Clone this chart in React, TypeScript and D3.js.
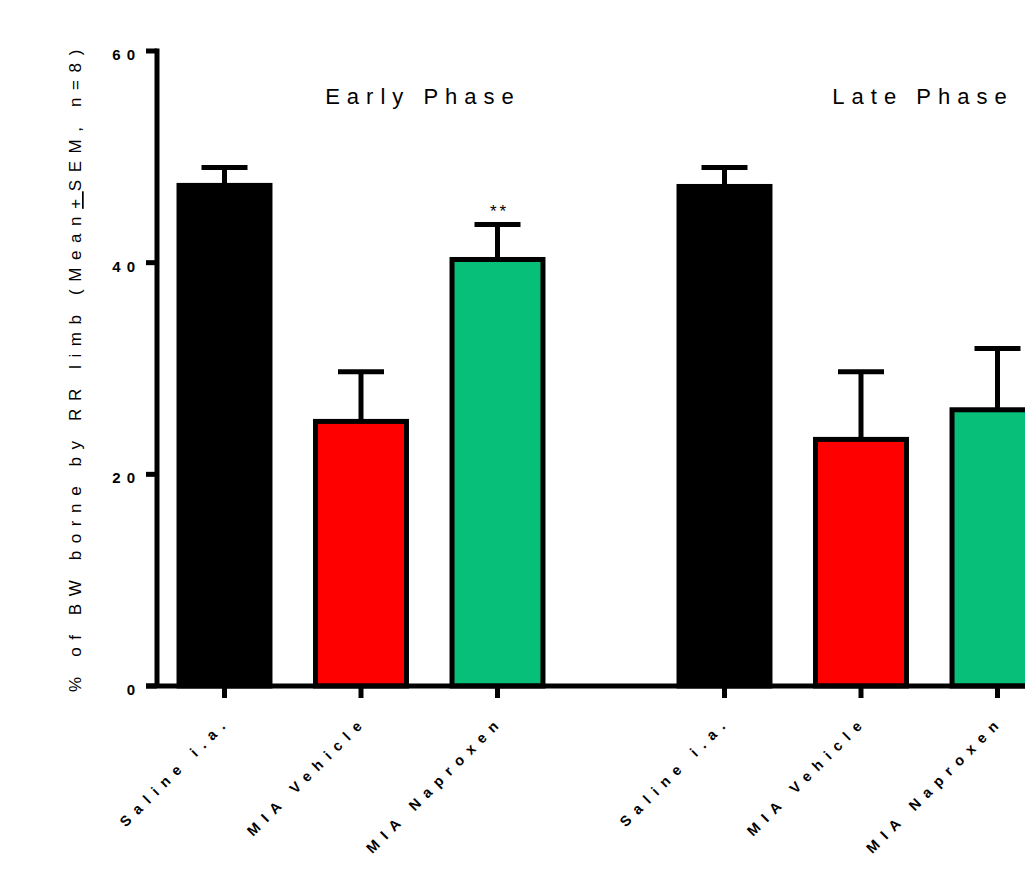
import React, { useEffect, useRef } from 'react';
import * as d3 from 'd3';

const phases = ['Early Phase', 'Late Phase'];
const groups = ['Saline i.a.', 'MIA Vehicle', 'MIA Naproxen'];
const groupColors = ['#000000', '#ff0000', '#07bf78'];
const earlyMeans = [47.3, 25.0, 40.3];
const earlySem = [1.7, 4.7, 3.3];
const lateMeans = [47.2, 23.3, 26.1];
const lateSem = [1.8, 6.4, 5.8];
const earlyMarks = ['', '', '**'];
const lateMarks = ['', '', ''];
const yTicks = [0, 20, 40, 60];

const App = () => {
    const svgRef = useRef<SVGSVGElement>(null);

    useEffect(() => {
        const width = 1025;
        const height = 884;
        const svg = d3.select(svgRef.current);
        svg.selectAll('*').remove();

        const rows = [
            { phase: phases[0], means: earlyMeans, sem: earlySem, marks: earlyMarks },
            { phase: phases[1], means: lateMeans, sem: lateSem, marks: lateMarks },
        ];

        const axisX = 157;
        const baseY = 686;
        const font = 'Arial, "Liberation Sans", Helvetica, sans-serif';

        const yScale = d3.scaleLinear().domain([0, 60]).range([baseY, 51]);

        const phaseScale = d3.scaleBand().domain(phases).range([111, 1111]);
        const groupScale = d3.scaleBand()
            .domain(groups)
            .range([0, phaseScale.bandwidth()])
            .paddingInner(0.297)
            .paddingOuter(0.48);

        const g = svg.append('g');

        // bars + error bars
        rows.forEach((row) => {
            const x0 = phaseScale(row.phase)!;
            groups.forEach((grp, i) => {
                const cx = x0 + groupScale(grp)! + groupScale.bandwidth() / 2;
                const bw = groupScale.bandwidth() - 5;
                const top = yScale(row.means[i]);
                const errTop = yScale(row.means[i] + row.sem[i]);

                g.append('line')
                    .attr('x1', cx).attr('x2', cx)
                    .attr('y1', top).attr('y2', errTop)
                    .attr('stroke', '#000').attr('stroke-width', 5);
                g.append('line')
                    .attr('x1', cx - 23).attr('x2', cx + 23)
                    .attr('y1', errTop).attr('y2', errTop)
                    .attr('stroke', '#000').attr('stroke-width', 5);

                g.append('rect')
                    .attr('x', cx - bw / 2)
                    .attr('y', top)
                    .attr('width', bw)
                    .attr('height', baseY - top)
                    .attr('fill', groupColors[i])
                    .attr('stroke', '#000')
                    .attr('stroke-width', 5);

                if (row.marks[i]) {
                    g.append('text')
                        .attr('x', cx + 2)
                        .attr('y', errTop - 8)
                        .attr('text-anchor', 'middle')
                        .style('font-family', font)
                        .style('font-size', '17px')
                        .style('letter-spacing', '3px')
                        .text(row.marks[i]);
                }

                // x tick + label
                g.append('line')
                    .attr('x1', cx).attr('x2', cx)
                    .attr('y1', baseY).attr('y2', baseY + 12)
                    .attr('stroke', '#000').attr('stroke-width', 5);
                g.append('text')
                    .attr('transform', `translate(${cx + 7},${baseY + 36}) rotate(-45)`)
                    .attr('text-anchor', 'end')
                    .style('font-family', font)
                    .style('font-size', '14.5px')
                    .style('font-weight', 'bold')
                    .style('letter-spacing', '7.5px')
                    .text(grp);
            });

            g.append('text')
                .attr('x', x0 + phaseScale.bandwidth() / 2 + 62)
                .attr('y', 104)
                .attr('text-anchor', 'middle')
                .style('font-family', font)
                .style('font-size', '22px')
                .style('letter-spacing', '7px')
                .text(row.phase);
        });

        // axes
        g.append('line')
            .attr('x1', axisX - 11).attr('x2', width + 10)
            .attr('y1', baseY).attr('y2', baseY)
            .attr('stroke', '#000').attr('stroke-width', 5);
        g.append('line')
            .attr('x1', axisX).attr('x2', axisX)
            .attr('y1', baseY).attr('y2', yScale(60) - 2.5)
            .attr('stroke', '#000').attr('stroke-width', 5);

        yTicks.forEach((t) => {
            g.append('line')
                .attr('x1', axisX - 11).attr('x2', axisX)
                .attr('y1', yScale(t)).attr('y2', yScale(t))
                .attr('stroke', '#000').attr('stroke-width', 5);
            g.append('text')
                .attr('x', axisX - 16)
                .attr('y', yScale(t) + 9)
                .attr('text-anchor', 'end')
                .style('font-family', font)
                .style('font-size', '15px')
                .style('font-weight', 'bold')
                .style('letter-spacing', '6px')
                .text(t);
        });

        const yTitle = g.append('text')
            .attr('transform', `translate(81,${367}) rotate(-90)`)
            .attr('text-anchor', 'middle')
            .style('font-family', font)
            .style('font-size', '17px')
            .style('letter-spacing', '7.6px');
        yTitle.append('tspan').text('% of BW borne by RR limb (Mean');
        yTitle.append('tspan').style('text-decoration', 'underline').text('+');
        yTitle.append('tspan').text('SEM, n=8)');

        svg.attr('width', width).attr('height', height);
    }, []);

    return (
        <svg
            ref={svgRef}
            style={{ position: 'absolute', left: 0, top: 0, background: '#fff' }}
        ></svg>
    );
};

export default App;
